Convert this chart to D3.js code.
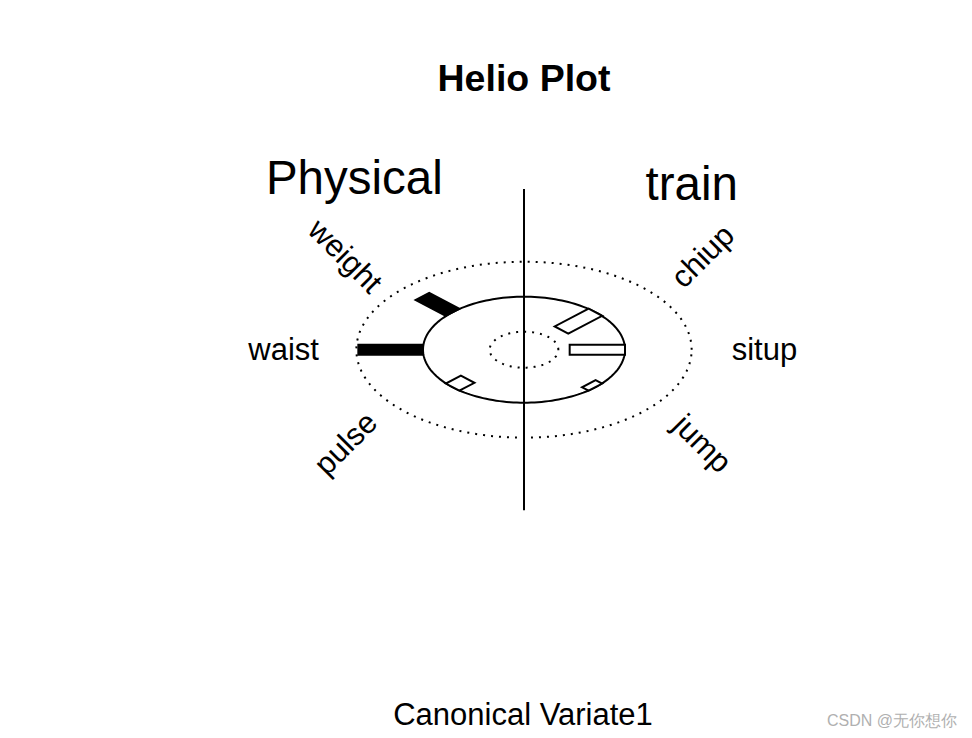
<!DOCTYPE html>
<html>
<head>
<meta charset="utf-8">
<script src="https://cdn.jsdelivr.net/npm/d3@7/dist/d3.min.js"></script>
<style>
  html, body { margin: 0; padding: 0; background: #fff; }
  svg { display: block; }
  text { font-family: "Liberation Sans", Arial, sans-serif; fill: #000; }
</style>
</head>
<body>
<div id="chart"></div>
<script>
// ---- data ----
const title = "Helio Plot";
const xLabel = "Canonical Variate1";
const xSetName = "Physical";
const ySetName = "train";
const xVars = ["weight", "waist", "pulse"];
const xLoadings = [0.64, 0.97, -0.32];
const yVars = ["chiup", "situp", "jump"];
const yLoadings = [-0.72, -0.83, -0.14];
const refLevels = [-1, 0, 1];   // dotted inner, solid zero, dotted outer
const watermark = "CSDN @无你想你";

// ---- layout ----
const W = 972, H = 738;
const cx = 524, cy = 349.7;
const ux = 101, uy = 53;          // pixels per data unit in x and y

const svg = d3.select("#chart").append("svg").attr("width", W).attr("height", H);

const x = d3.scaleLinear().domain([-1, 1]).range([cx - ux, cx + ux]);
const y = d3.scaleLinear().domain([-1, 1]).range([cy + uy, cy - uy]);
// loading value -> radius (data units), zero at radius 1
const r = d3.scaleLinear().domain([-1, 1]).range([0.34, 1.66]);

const halfW = 0.095;
const deg = Math.PI / 180;

function barPoly(theta, v) {
  const u = [Math.cos(theta), Math.sin(theta)];
  const n = [-Math.sin(theta), Math.cos(theta)];
  const r0 = r(0), r1 = r(v);
  const pts = [
    [r0 * u[0] + halfW * n[0], r0 * u[1] + halfW * n[1]],
    [r1 * u[0] + halfW * n[0], r1 * u[1] + halfW * n[1]],
    [r1 * u[0] - halfW * n[0], r1 * u[1] - halfW * n[1]],
    [r0 * u[0] - halfW * n[0], r0 * u[1] - halfW * n[1]]
  ];
  return pts.map(p => [x(p[0]), y(p[1])]);
}

// reference ellipses
const circ = d3.range(0, 361, 2).map(a => a * deg);
const lineGen = d3.line();
refLevels.forEach(lv => {
  const rr = r(lv);
  svg.append("path")
    .attr("d", lineGen(circ.map(t => [x(rr * Math.cos(t)), y(rr * Math.sin(t))])) + "Z")
    .attr("fill", "none")
    .attr("stroke", "#000")
    .attr("stroke-width", 2)
    .attr("stroke-dasharray", lv === 0 ? null : "2,6");
});

// vertical divider
svg.append("line")
  .attr("x1", x(0)).attr("x2", x(0))
  .attr("y1", y(3.03)).attr("y2", y(-3.03))
  .attr("stroke", "#000").attr("stroke-width", 2);

// bars + labels
const xAngles = xVars.map((d, i) => (135 + i * 45) * deg);
const yAngles = yVars.map((d, i) => (45 - i * 45) * deg);

function drawSet(vars, vals, angles) {
  vars.forEach((name, i) => {
    const th = angles[i];
    const v = vals[i];
    svg.append("polygon")
      .attr("points", barPoly(th, v).map(p => p.join(",")).join(" "))
      .attr("fill", v >= 0 ? "#000" : "#fff")
      .attr("stroke", "#000")
      .attr("stroke-width", 2)
      .attr("stroke-linejoin", "miter");
    const diag = Math.abs(Math.cos(th)) < 0.99;
    const LR = diag ? 2.5 : 2.38;
    const px = x(LR * Math.cos(th)), py = y(LR * Math.sin(th));
    let rot = 0;
    if (diag) {
      rot = (Math.cos(th) * Math.sin(th) > 0) ? -45 : 45;
    }
    svg.append("text")
      .attr("transform", `translate(${px},${py}) rotate(${rot})`)
      .attr("text-anchor", "middle")
      .attr("dy", "0.34em")
      .attr("font-size", 31)
      .text(name);
  });
}
drawSet(xVars, xLoadings, xAngles);
drawSet(yVars, yLoadings, yAngles);

// set names
svg.append("text").attr("x", x(-1.68)).attr("y", y(2.94))
  .attr("text-anchor", "middle").attr("font-size", 47.5).text(xSetName);
svg.append("text").attr("x", x(1.66)).attr("y", y(2.83))
  .attr("text-anchor", "middle").attr("font-size", 47.5).text(ySetName);

// title
svg.append("text").attr("x", 524).attr("y", 91)
  .attr("text-anchor", "middle").attr("font-size", 37.5).attr("font-weight", "bold").text(title);

// x label
svg.append("text").attr("x", 523).attr("y", 725)
  .attr("text-anchor", "middle").attr("font-size", 31).text(xLabel);

// watermark
svg.append("text").attr("x", 957).attr("y", 726)
  .attr("text-anchor", "end").attr("font-size", 16)
  .attr("font-family", "'Noto Sans CJK SC', sans-serif")
  .style("fill", "#b0b0b0").text(watermark);
</script>
</body>
</html>
